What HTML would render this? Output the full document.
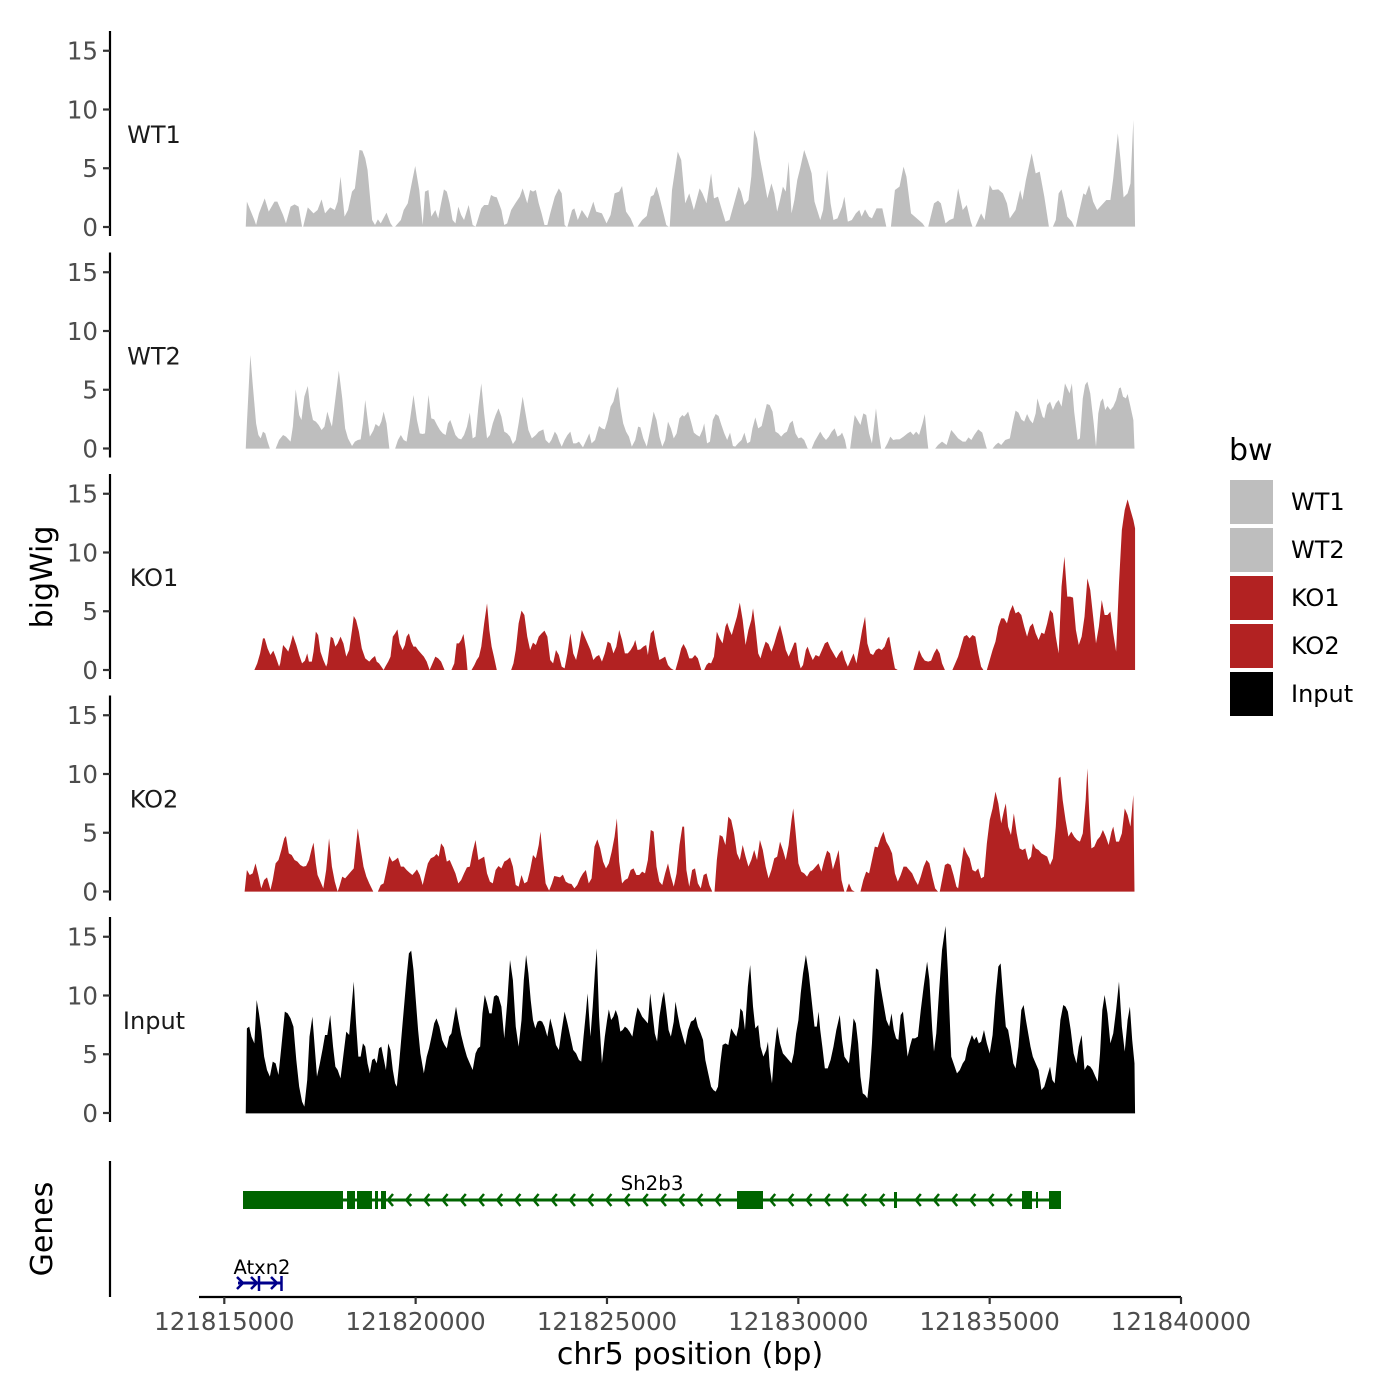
<!DOCTYPE html>
<html><head><meta charset="utf-8"><style>
html,body{margin:0;padding:0;background:#fff;}
svg{display:block;}
text{font-family:"DejaVu Sans","Liberation Sans",sans-serif;}
</style></head><body>
<svg width="1400" height="1400" viewBox="0 0 1400 1400" xmlns="http://www.w3.org/2000/svg">
<rect width="1400" height="1400" fill="#fff"/>

<!-- y axes per panel -->
<g stroke="#000" stroke-width="2.2">
<line x1="110" y1="31" x2="110" y2="236"/>
<line x1="110" y1="252.5" x2="110" y2="457.5"/>
<line x1="110" y1="474" x2="110" y2="679"/>
<line x1="110" y1="695.5" x2="110" y2="900.5"/>
<line x1="110" y1="917" x2="110" y2="1122"/>
<line x1="110" y1="1161" x2="110" y2="1297"/>
</g>

<!-- ticks and labels -->
<g id="ticks" stroke="#333" stroke-width="2.2"></g>
<g id="ticklabels" font-size="24.5" fill="#4D4D4D" text-anchor="end"></g>

<!-- strip labels -->
<g font-size="24" fill="#1a1a1a" text-anchor="middle">
<text x="154" y="143">WT1</text>
<text x="154" y="364.5">WT2</text>
<text x="154" y="586">KO1</text>
<text x="154" y="807.5">KO2</text>
<text x="154" y="1029">Input</text>
</g>

<!-- WT1 -->
<g transform="translate(240,110) scale(0.5745,0.33333)">
<polygon fill="#BEBEBE" points="10,350 12,275 25,330 28,345 33,310 43,265 50,305 60,275 65,275 75,315 80,340 88,290 95,283 102,290 108,350 110,350 118,292 128,310 135,300 142,268 148,310 157,292 165,300 170,275 175,200 182,320 188,300 195,245 200,235 208,120 213,122 218,145 222,180 230,330 235,345 240,328 245,340 255,308 262,340 266,350 270,350 280,330 285,300 292,280 300,210 305,168 312,240 318,345 322,245 328,240 333,320 340,300 345,325 350,280 355,238 360,245 365,280 370,330 375,340 380,290 385,315 390,330 398,285 405,345 410,350 412,340 420,295 425,285 432,285 437,255 442,260 447,262 455,300 460,345 465,340 472,300 480,278 487,260 492,235 500,280 505,240 510,245 515,240 520,280 525,310 530,345 535,345 540,310 548,260 555,235 560,250 565,345 568,350 570,350 578,300 582,295 588,330 595,300 605,325 615,275 620,305 630,310 638,340 645,315 652,250 660,245 665,228 672,305 680,325 686,350 692,350 700,330 708,318 715,260 720,255 725,230 730,260 742,345 746,350 748,350 752,240 762,125 768,150 775,280 782,250 790,300 800,235 805,250 812,280 820,190 825,265 832,260 838,295 845,335 852,330 860,280 868,230 872,245 878,285 885,270 890,200 895,60 900,85 905,145 910,190 918,265 925,220 930,250 935,305 940,270 945,230 950,245 955,155 960,310 965,270 970,210 975,175 982,120 988,150 995,190 1000,275 1010,330 1015,300 1022,180 1028,280 1033,330 1040,325 1048,290 1052,260 1058,335 1065,330 1072,310 1078,300 1082,320 1088,298 1095,320 1100,325 1108,295 1118,295 1125,350 1133,350 1140,240 1148,230 1155,170 1160,200 1168,310 1178,325 1188,340 1192,350 1198,350 1208,280 1215,272 1220,280 1228,340 1235,330 1242,325 1250,235 1258,300 1265,285 1272,335 1275,350 1280,350 1290,310 1296,330 1305,225 1310,240 1320,238 1328,250 1335,280 1340,325 1350,300 1358,240 1362,270 1368,210 1378,130 1385,190 1392,185 1400,260 1408,350 1415,350 1420,330 1425,250 1430,238 1435,275 1440,320 1448,335 1452,350 1455,350 1460,310 1468,250 1472,255 1478,225 1485,275 1492,300 1500,285 1508,270 1515,270 1520,205 1528,70 1533,155 1538,262 1545,250 1550,220 1555,30 1558,350"/>
</g>

<!-- WT2 -->
<g transform="translate(240,340) scale(0.5745,0.33333)">
<polygon fill="#BEBEBE" points="10,326 12,250 18,45 22,130 28,250 32,285 36,295 40,275 44,280 48,305 52,326 62,326 68,300 75,285 80,290 88,305 92,260 97,148 103,225 107,240 112,170 118,138 122,200 127,240 132,245 137,255 142,270 147,260 152,215 157,245 160,260 165,190 172,92 178,175 183,265 188,295 195,318 200,305 205,300 210,298 214,250 218,180 222,235 226,290 232,272 236,252 242,260 246,245 250,215 255,250 260,326 270,326 275,300 280,285 285,300 290,305 295,250 302,165 308,240 313,280 318,282 322,280 328,165 333,235 338,238 343,255 348,270 353,280 358,285 362,250 366,240 370,260 375,285 380,295 385,298 390,285 395,260 400,218 405,295 410,290 415,200 420,130 425,220 430,295 435,285 440,250 445,225 450,205 455,230 460,275 465,280 470,290 475,312 480,300 485,250 492,170 497,220 502,270 508,295 515,285 520,275 528,268 532,300 538,310 542,300 548,275 552,285 556,305 560,320 565,300 570,285 575,275 580,310 585,310 590,305 597,322 603,300 608,280 612,310 618,300 625,258 630,265 635,268 640,240 645,200 650,185 655,150 658,140 662,200 667,250 672,275 677,290 682,320 688,300 693,260 697,262 702,295 708,320 714,270 720,215 725,240 730,290 735,320 740,300 745,245 750,265 755,295 760,280 765,235 770,225 773,230 777,222 780,215 785,245 790,278 795,285 800,290 805,270 808,250 813,310 818,305 823,240 828,222 833,228 838,255 843,280 848,300 853,278 858,318 862,320 867,310 873,300 878,278 883,310 888,305 892,265 897,232 902,265 908,258 913,220 917,192 922,195 927,215 932,275 937,280 942,290 947,280 952,275 957,250 962,242 967,280 972,295 977,292 982,300 988,325 990,326 995,326 1000,305 1005,290 1010,275 1015,290 1020,300 1025,290 1030,275 1035,265 1040,290 1045,285 1048,278 1053,300 1056,326 1062,326 1067,260 1070,225 1075,240 1080,255 1085,220 1090,225 1095,280 1100,310 1107,205 1112,280 1116,326 1122,326 1127,310 1132,290 1137,300 1142,298 1148,298 1155,290 1162,280 1167,275 1172,285 1177,275 1182,285 1188,250 1192,222 1196,295 1198,326 1210,326 1215,315 1222,305 1230,315 1238,270 1243,280 1250,295 1258,305 1263,305 1268,292 1273,300 1278,285 1285,268 1292,278 1298,315 1300,326 1310,326 1315,315 1320,308 1325,315 1332,300 1340,295 1345,250 1350,212 1355,218 1360,238 1365,245 1370,222 1375,240 1380,250 1385,220 1388,175 1392,200 1397,230 1400,235 1405,195 1410,185 1415,210 1420,190 1425,180 1430,200 1436,130 1440,145 1444,160 1448,130 1452,215 1458,300 1462,295 1467,175 1471,135 1475,125 1480,160 1486,250 1490,320 1494,220 1498,185 1502,175 1506,210 1510,198 1515,210 1520,200 1525,180 1530,145 1533,142 1537,170 1542,175 1545,162 1550,200 1555,240 1557,326"/>
</g>

<!-- KO1 -->
<g transform="translate(240,490) scale(0.5745,0.33333)">
<polygon fill="#B22222" points="25,540 30,520 35,490 40,445 43,445 48,475 53,495 58,482 62,500 68,530 70,520 75,465 80,475 84,485 88,462 92,435 98,465 103,495 108,520 113,512 117,490 120,515 125,515 128,485 132,425 136,435 140,485 145,510 150,530 152,520 158,440 162,445 166,470 170,460 175,440 180,460 185,500 190,480 195,420 198,378 202,390 207,425 212,475 218,505 225,515 230,505 235,498 238,515 242,520 246,530 250,540 253,530 258,515 262,500 266,440 270,430 274,418 278,460 283,480 287,465 290,440 294,430 298,455 302,470 306,470 310,480 315,490 320,500 325,515 330,540 335,520 340,500 345,505 350,515 356,540 368,540 373,520 377,460 381,460 385,450 389,432 393,480 396,540 403,540 408,525 412,510 416,500 420,470 425,400 430,340 434,420 438,470 442,500 447,540 472,540 476,520 480,480 485,400 490,362 495,375 500,440 505,480 510,458 515,465 520,440 525,430 530,422 535,440 540,510 545,520 550,480 555,495 560,530 565,535 570,490 575,430 580,490 585,510 590,470 595,420 600,440 605,460 610,480 615,510 620,500 625,495 630,515 635,490 640,455 645,460 650,490 655,470 660,420 665,450 670,490 675,490 680,480 685,465 688,450 692,480 697,478 702,470 707,465 710,495 715,430 720,420 725,470 730,510 735,505 740,500 745,525 750,535 755,540 758,540 763,510 768,475 772,462 777,478 782,505 787,505 792,495 797,505 803,540 808,540 812,525 816,518 820,520 825,500 830,425 835,445 840,460 845,410 848,398 852,420 856,435 860,410 865,380 870,338 875,390 880,465 885,420 890,390 893,355 897,410 902,490 906,505 910,480 915,455 920,462 925,485 930,460 935,430 940,405 945,440 950,480 955,500 960,480 965,458 968,458 972,510 976,535 980,525 985,480 988,470 992,490 997,510 1002,495 1008,500 1013,480 1018,460 1023,455 1028,475 1033,490 1038,505 1043,490 1048,480 1053,510 1058,530 1063,510 1068,490 1073,520 1078,470 1083,420 1088,380 1092,460 1097,490 1102,495 1107,480 1112,475 1117,480 1122,470 1127,445 1130,440 1135,490 1140,535 1145,540 1172,540 1177,510 1182,480 1187,500 1192,512 1198,515 1203,512 1208,490 1213,475 1218,490 1222,520 1227,540 1240,540 1245,520 1250,500 1255,470 1260,440 1265,435 1270,445 1275,435 1280,440 1285,490 1290,530 1294,540 1300,540 1305,510 1310,480 1315,455 1320,410 1325,385 1330,385 1335,400 1340,365 1345,345 1350,370 1355,365 1360,375 1365,410 1370,440 1375,410 1380,400 1385,430 1390,450 1395,428 1400,432 1405,400 1410,360 1415,370 1420,440 1425,490 1430,290 1435,200 1440,320 1445,320 1450,323 1455,420 1460,465 1465,440 1470,380 1475,265 1480,300 1485,380 1490,460 1495,410 1500,330 1505,375 1510,375 1515,365 1520,430 1525,485 1530,280 1535,120 1540,60 1545,28 1550,60 1555,90 1558,115 1558,540"/>
</g>

<!-- KO2 -->
<g transform="translate(240,760) scale(0.5745,0.33333)">
<polygon fill="#B22222" points="8,395 12,330 17,345 22,340 27,310 32,345 37,385 42,360 47,352 50,370 53,390 57,360 62,310 67,300 72,270 77,235 80,228 85,280 90,285 95,300 100,305 105,315 110,320 115,318 120,300 125,265 128,248 132,310 135,345 140,365 145,385 150,330 155,235 160,320 165,365 170,395 173,380 178,350 183,355 188,345 193,335 198,325 202,255 205,205 210,265 215,320 220,350 225,370 232,395 240,395 245,375 250,370 255,330 260,288 265,305 270,300 275,293 280,320 285,320 290,330 295,338 300,345 305,335 308,328 313,345 318,375 322,345 327,310 332,295 338,290 342,282 346,290 350,250 355,262 360,305 365,300 370,320 375,340 380,370 385,360 390,340 395,322 400,320 405,275 410,240 415,300 420,295 425,290 430,340 435,365 440,370 445,330 450,318 455,325 460,305 465,300 470,292 475,320 480,375 485,380 490,345 495,370 500,365 505,330 510,285 515,295 520,255 523,215 527,290 532,370 538,392 543,370 547,348 552,350 557,352 562,344 567,365 572,370 577,372 582,385 587,375 592,355 597,340 602,330 607,370 612,355 617,260 622,238 627,265 632,305 637,325 642,310 647,275 652,230 656,175 660,305 665,370 670,360 675,355 680,330 685,325 690,345 695,345 700,335 705,340 710,300 715,210 720,215 725,320 730,365 735,375 740,340 745,310 750,350 755,380 760,340 765,255 770,200 773,200 777,330 782,380 787,330 792,325 797,370 802,385 807,345 812,340 817,375 822,395 826,395 830,300 835,225 840,230 845,255 850,170 855,180 860,220 865,280 870,300 875,255 880,290 885,320 890,300 895,270 900,300 905,240 910,270 915,320 920,355 925,330 930,295 935,290 940,245 945,270 950,300 955,255 960,180 963,145 967,215 972,310 977,335 982,340 987,350 992,335 997,330 1002,320 1007,310 1012,335 1017,300 1022,272 1027,280 1032,328 1037,300 1042,270 1047,360 1052,395 1055,395 1060,370 1065,390 1070,395 1080,395 1085,360 1090,335 1095,340 1100,300 1105,260 1110,262 1115,235 1120,215 1125,245 1130,260 1135,280 1140,340 1145,365 1150,345 1155,320 1160,320 1165,330 1170,340 1175,360 1180,375 1185,350 1190,320 1195,300 1200,310 1205,350 1210,385 1215,395 1218,395 1222,360 1227,315 1232,310 1237,315 1242,345 1247,380 1250,385 1255,320 1260,260 1265,280 1270,295 1275,330 1280,335 1285,325 1290,355 1295,350 1300,250 1305,180 1310,145 1315,95 1320,130 1325,190 1330,150 1333,130 1337,200 1342,225 1347,160 1352,220 1357,265 1362,270 1367,265 1372,300 1377,290 1380,250 1385,265 1390,270 1395,280 1400,285 1405,290 1410,315 1415,295 1420,200 1425,55 1428,50 1432,120 1437,180 1442,230 1447,215 1452,230 1457,240 1462,245 1467,220 1472,120 1475,25 1478,150 1482,265 1487,260 1492,240 1497,230 1502,210 1507,230 1512,255 1517,215 1520,200 1525,245 1530,245 1535,220 1540,145 1545,165 1550,200 1555,105 1557,395"/>
</g>

<!-- Input -->
<g transform="translate(240,920) scale(0.5745,0.33333)">
<polygon fill="#000" points="10,580 12,325 16,320 20,350 25,370 29,240 33,280 37,330 42,410 47,450 52,470 57,425 62,430 67,465 72,380 78,275 83,280 88,295 93,320 98,420 103,500 108,545 112,560 117,480 121,350 126,290 130,380 134,470 139,430 144,385 148,345 152,345 157,285 162,380 166,440 170,450 175,475 180,405 185,335 190,345 195,245 198,185 202,310 206,410 210,410 214,370 218,380 222,430 226,460 230,420 234,415 238,430 242,385 246,380 250,415 254,450 258,370 262,390 266,450 270,490 273,500 277,430 282,330 286,250 290,170 294,100 298,92 302,150 306,240 310,330 314,400 320,460 325,410 329,385 334,345 338,310 342,295 347,320 352,360 356,375 360,385 364,350 368,340 372,300 376,260 380,300 385,345 390,380 395,410 400,430 405,450 410,400 414,385 418,380 422,280 426,225 430,250 434,280 438,280 442,230 446,225 450,230 455,260 460,355 465,250 470,120 475,180 480,320 485,380 490,300 494,180 498,105 502,160 506,240 510,300 514,325 518,305 522,302 526,305 530,320 535,350 540,295 545,330 550,375 555,390 560,330 565,275 570,310 575,350 580,390 585,400 590,420 594,425 598,350 602,280 605,220 610,350 614,260 618,150 621,85 625,290 630,430 635,350 639,300 642,268 646,300 650,290 654,270 658,290 662,335 666,330 670,320 674,325 678,335 683,350 688,295 692,262 696,275 700,290 705,300 710,310 714,220 718,280 722,340 726,365 730,290 735,235 738,215 742,270 746,330 750,350 755,305 758,245 762,285 766,320 770,345 775,375 780,330 785,305 790,300 793,290 797,320 802,340 806,360 810,420 815,460 820,500 824,510 828,515 832,500 836,430 840,375 845,370 850,375 855,325 860,340 864,350 868,320 871,265 875,275 879,330 884,200 888,135 893,260 897,325 902,315 906,380 911,410 916,390 919,365 922,440 926,490 930,395 935,320 940,370 945,400 950,410 955,420 960,430 964,400 968,340 972,300 976,220 980,160 985,105 990,160 995,240 1000,320 1004,320 1007,275 1010,330 1014,385 1018,445 1023,445 1028,420 1033,380 1038,330 1044,285 1048,360 1052,410 1056,420 1060,430 1064,370 1068,295 1072,310 1076,370 1080,470 1084,520 1088,525 1092,535 1096,470 1100,370 1104,230 1107,145 1111,150 1115,200 1120,250 1125,300 1130,320 1134,280 1138,330 1142,355 1146,360 1150,285 1154,275 1158,340 1162,410 1166,380 1170,355 1175,355 1180,350 1185,270 1190,200 1196,125 1200,180 1205,330 1208,395 1212,340 1217,210 1222,90 1228,18 1232,150 1238,410 1244,440 1248,460 1253,450 1258,430 1262,420 1266,385 1270,365 1274,345 1278,360 1282,350 1286,370 1290,365 1295,330 1300,370 1305,400 1310,345 1315,230 1320,140 1324,130 1328,220 1333,320 1337,330 1342,380 1346,430 1350,445 1355,380 1360,270 1364,255 1368,300 1372,340 1376,380 1380,410 1385,430 1390,450 1395,510 1400,500 1405,470 1410,440 1414,480 1418,490 1422,420 1428,300 1433,255 1437,260 1441,275 1446,330 1451,400 1456,430 1460,380 1465,345 1470,450 1475,435 1480,440 1484,450 1489,470 1493,485 1497,400 1501,270 1505,225 1510,280 1515,370 1520,340 1525,270 1530,185 1535,320 1540,395 1545,300 1549,260 1553,360 1557,430 1558,580"/>
</g>

<!-- Gene track -->
<g>
<line x1="244" y1="1200" x2="1060" y2="1200" stroke="#006400" stroke-width="3"/>
<g fill="#006400">
<rect x="243" y="1191" width="100" height="18"/>
<rect x="347" y="1191" width="8" height="18"/>
<rect x="357" y="1191" width="15" height="18"/>
<rect x="375" y="1191" width="3" height="18"/>
<rect x="381" y="1191" width="5" height="18"/>
<rect x="737" y="1191" width="26" height="18"/>
<rect x="894" y="1192" width="3" height="16"/>
<rect x="1022" y="1191" width="10" height="18"/>
<rect x="1036" y="1192" width="2" height="16"/>
<rect x="1049" y="1191" width="12" height="18"/>
</g>
<g id="arrows" fill="none" stroke="#006400" stroke-width="2.5"></g>
<text x="652" y="1190" font-size="19.8" fill="#000" text-anchor="middle">Sh2b3</text>

<line x1="238" y1="1283" x2="282" y2="1283" stroke="#00008B" stroke-width="3"/>
<g fill="none" stroke="#00008B" stroke-width="2.5">
<polyline points="237,1277 243,1283 237,1289"/>
<polyline points="251,1277 257,1283 251,1289"/>
<polyline points="271,1277 277,1283 271,1289"/>
<line x1="259" y1="1276" x2="259" y2="1291"/>
<line x1="281.5" y1="1276" x2="281.5" y2="1291"/>
</g>
<text x="262" y="1274" font-size="19.5" fill="#000" text-anchor="middle">Atxn2</text>
</g>

<!-- x axis -->
<line x1="199" y1="1297" x2="1181" y2="1297" stroke="#000" stroke-width="2.2"/>
<g id="xticks" stroke="#333" stroke-width="2.2"></g>
<g id="xlabels" font-size="24.5" fill="#4D4D4D" text-anchor="middle"></g>

<!-- titles -->
<text x="690" y="1364" font-size="30" fill="#000" text-anchor="middle">chr5 position (bp)</text>
<text transform="translate(52,577) rotate(-90)" font-size="30" fill="#000" text-anchor="middle">bigWig</text>
<text transform="translate(52,1229) rotate(-90)" font-size="30" fill="#000" text-anchor="middle">Genes</text>

<!-- legend -->
<text x="1229" y="460" font-size="30" fill="#000">bw</text>
<g>
<rect x="1230" y="480" width="43" height="44" fill="#BEBEBE"/>
<rect x="1230" y="528" width="43" height="44" fill="#BEBEBE"/>
<rect x="1230" y="576" width="43" height="44" fill="#B22222"/>
<rect x="1230" y="624" width="43" height="44" fill="#B22222"/>
<rect x="1230" y="672" width="43" height="44" fill="#000"/>
</g>
<g font-size="24" fill="#000">
<text x="1291" y="510">WT1</text>
<text x="1291" y="558">WT2</text>
<text x="1291" y="606">KO1</text>
<text x="1291" y="654">KO2</text>
<text x="1291" y="702">Input</text>
</g>
</svg>
<script>
(function(){
 var NS="http://www.w3.org/2000/svg";
 function el(tag,attrs,parent,txt){var e=document.createElementNS(NS,tag);for(var k in attrs)e.setAttribute(k,attrs[k]);if(txt!==undefined)e.textContent=txt;parent.appendChild(e);return e;}
 var ticks=document.getElementById("ticks"),tl=document.getElementById("ticklabels");
 var zeros=[227,448.5,670,891.5,1113];
 var ppu=11.75;
 zeros.forEach(function(z){
  [0,5,10,15].forEach(function(v){
   var y=z-v*ppu;
   el("line",{x1:103,y1:y,x2:110,y2:y},ticks);
   el("text",{x:98,y:y+8.8},tl,String(v));
  });
 });
 var xt=document.getElementById("xticks"),xl=document.getElementById("xlabels");
 for(var i=0;i<6;i++){
  var x=224.3+i*191.34;
  el("line",{x1:x,y1:1297,x2:x,y2:1304},xt);
  el("text",{x:x,y:1330},xl,String(121815000+i*5000));
 }
 var ar=document.getElementById("arrows");
 for(var x=388;x<=1017;x+=18.2){
  if(x>728&&x<768)continue;
  if(x>888&&x<900)continue;
  el("polyline",{points:(x+5)+",1194 "+x+",1200 "+(x+5)+",1206"},ar);
 }
})();
</script>
</body></html>
